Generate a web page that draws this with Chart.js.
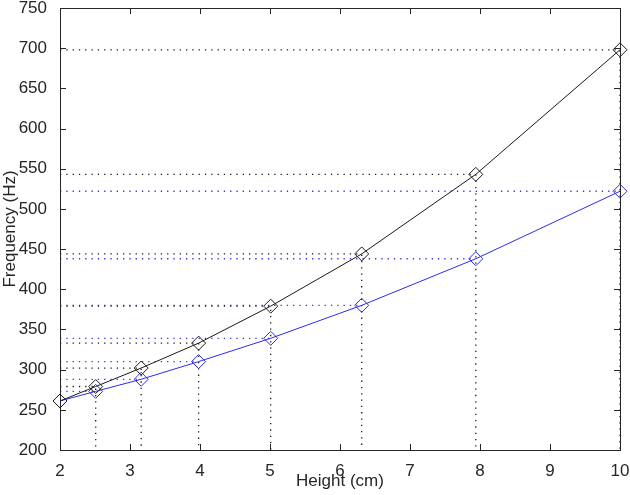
<!DOCTYPE html>
<html>
<head>
<meta charset="utf-8">
<script src="https://cdn.jsdelivr.net/npm/chart.js@4.4.0/dist/chart.umd.min.js"></script>
<style>
  html, body { margin: 0; padding: 0; background: #fff; }
  #wrap { width: 630px; height: 495px; }
</style>
</head>
<body>
<div id="wrap"><canvas id="freq-chart"></canvas></div>
<script>
// values
const heights   = [2.0, 2.51, 3.16, 3.98, 5.01, 6.31, 7.94, 10.0];
const freqBlack = [261, 279, 302, 333, 379, 444, 543, 698];
const freqBlue  = [261, 273, 288, 310, 339, 380, 438, 522];
const xTicks    = [2, 3, 4, 5, 6, 7, 8, 9, 10];
const yTicks    = [200, 250, 300, 350, 400, 450, 500, 550, 600, 650, 700, 750];

const X_MIN = 2, X_MAX = 10, Y_MIN = 200, Y_MAX = 750;
const FONT = "'Liberation Sans', Arial, sans-serif";
const INK = '#262626';

var freq_chart = (function () {

    // dotted guides: horizontal from the y axis to the point, optionally down to the x axis
    buildGuides = (xs, ys, color, drop) => {
        var result = [];
        for (var i = 0; i < xs.length; i++) {
            var pts = [{ x: X_MIN, y: ys[i] }, { x: xs[i], y: ys[i] }];
            if (drop) pts.push({ x: xs[i], y: Y_MIN });
            result.push({
                data: pts,
                borderColor: color,
                borderWidth: 1.3,
                borderDash: [1.3, 5],
                pointRadius: 0,
                fill: false,
                order: 5
            });
        }
        return result;
    }

    series = (xs, ys, color) => ({
        data: xs.map((x, i) => ({ x: x, y: ys[i] })),
        borderColor: color,
        borderWidth: 1,
        pointStyle: 'rectRot',
        pointRadius: 7,
        pointBorderWidth: 1,
        pointBackgroundColor: 'rgba(0,0,0,0)',
        pointBorderColor: color,
        fill: false,
        clip: false,
        order: 1
    });

    // box around the plot with inward ticks on all sides
    const framePlugin = {
        id: 'frame',
        afterDraw(chart) {
            const { ctx, chartArea: a, scales } = chart;
            ctx.save();
            ctx.strokeStyle = INK;
            ctx.lineWidth = 1;
            ctx.strokeRect(Math.round(a.left) + 0.5, Math.round(a.top) + 0.5,
                           Math.round(a.right - a.left), Math.round(a.bottom - a.top));
            ctx.beginPath();
            xTicks.forEach(v => {
                const px = Math.round(scales.x.getPixelForValue(v)) + 0.5;
                ctx.moveTo(px, a.bottom); ctx.lineTo(px, a.bottom - 6);
                ctx.moveTo(px, a.top);    ctx.lineTo(px, a.top + 6);
            });
            yTicks.forEach(v => {
                const py = Math.round(scales.y.getPixelForValue(v)) + 0.5;
                ctx.moveTo(a.left, py);  ctx.lineTo(a.left + 6, py);
                ctx.moveTo(a.right, py); ctx.lineTo(a.right - 6, py);
            });
            ctx.stroke();
            ctx.restore();
        }
    };

    draw = () => {
        var datasets = [
            series(heights, freqBlack, '#1a1a1a'),
            series(heights, freqBlue, '#2b2bf0')
        ].concat(buildGuides(heights, freqBlack, '#1a1a1a', true))
         .concat(buildGuides(heights, freqBlue, '#3535e0', false));

        new Chart(document.getElementById('freq-chart'), {
            type: 'line',
            data: { datasets: datasets },
            plugins: [framePlugin],
            options: {
                responsive: true,
                maintainAspectRatio: false,
                animation: false,
                layout: { padding: { top: 8, right: 10, bottom: 0, left: 0 } },
                plugins: { legend: { display: false }, tooltip: { enabled: false } },
                scales: {
                    x: {
                        type: 'linear', min: X_MIN, max: X_MAX,
                        afterBuildTicks: s => { s.ticks = xTicks.map(v => ({ value: v })); },
                        afterFit: s => { s.height = 45; s.paddingLeft = 0; s.paddingRight = 0; },
                        grid: { display: false },
                        border: { display: false },
                        ticks: { color: INK, font: { family: FONT, size: 17 }, padding: 3, maxRotation: 0 },
                        title: { display: true, text: 'Height (cm)', color: INK,
                                 font: { family: FONT, size: 17 }, padding: { top: 0, bottom: 3 } }
                    },
                    y: {
                        type: 'linear', min: Y_MIN, max: Y_MAX,
                        afterBuildTicks: s => { s.ticks = yTicks.map(v => ({ value: v })); },
                        afterFit: s => { s.width = 60; s.paddingTop = 0; s.paddingBottom = 0; },
                        grid: { display: false },
                        border: { display: false },
                        ticks: { color: INK, font: { family: FONT, size: 17 }, padding: 5 },
                        title: { display: true, text: 'Frequency (Hz)', color: INK,
                                 font: { family: FONT, size: 17 }, padding: { top: 0, bottom: 0 } }
                    }
                }
            }
        });
    }

    return { draw }
}());

freq_chart.draw();
</script>
</body>
</html>
